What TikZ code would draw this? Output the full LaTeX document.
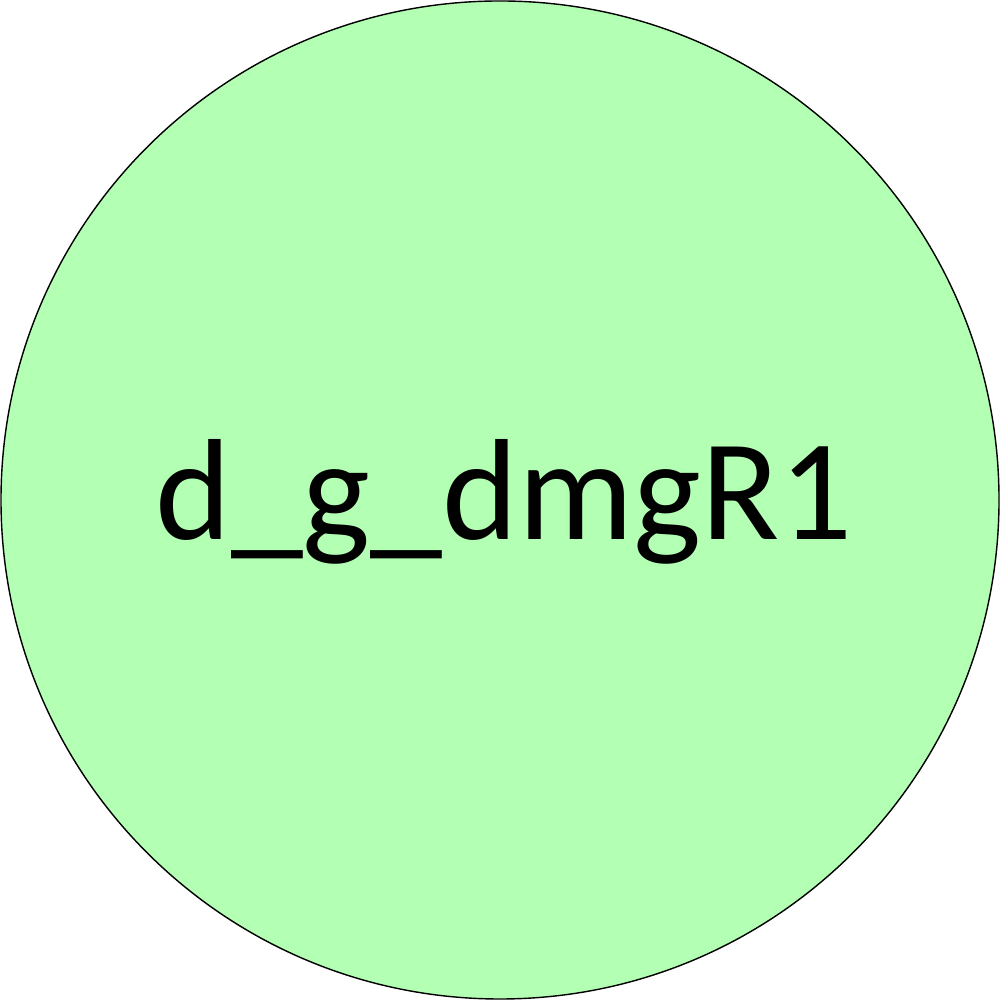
\documentclass[tikz,border=0pt]{standalone}
\usepackage{fontspec}
\setmainfont{Carlito}
\definecolor{fillgreen}{HTML}{B3FFB3}
\tikzset{
  state/.style={draw=black, fill=fillgreen, line width=0.4pt},
  lab/.style={font=\fontsize{41}{49}\selectfont, inner sep=0pt}
}
\begin{document}
\begin{tikzpicture}
  \useasboundingbox (0,0) rectangle (10,10);
  \coordinate (C) at (5,5);
  \draw[state] (C) circle (4.99);
  \node[lab, anchor=base] (name) at (5.04,4.60) {d\_g\_dmgR1};
\end{tikzpicture}
\end{document}
